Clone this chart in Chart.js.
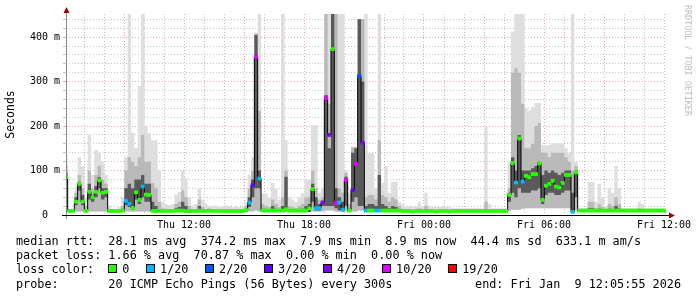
<!DOCTYPE html>
<html>
<head>
<meta charset="utf-8">
<script src="https://cdn.jsdelivr.net/npm/chart.js@4.4.1/dist/chart.umd.min.js"></script>
<style>
  body { margin: 0; background: #fff; }
  #wrap { position: relative; width: 697px; height: 297px; font-family: "DejaVu Sans Mono", monospace; color: #000; }
  #wrap canvas { position: absolute; left: 0; top: 0; }
  .row { position: absolute; left: 16px; font-size: 11.8px; line-height: 14px; white-space: pre; }
  .box { display: inline-block; width: 7px; height: 7px; border: 1px solid #000; margin-right: 5px; }
  .lab { margin-right: 16.6px; }
  #endtxt { position: absolute; right: 16px; top: 277px; font-size: 11.8px; line-height: 14px; white-space: pre; }
  #rrd { position: absolute; left: 683px; top: 5px; font-size: 8.4px; color: #bdbdbd; writing-mode: vertical-rl; white-space: pre; }
</style>
</head>
<body>
<div id="wrap">
  <canvas id="chart" width="697" height="297"></canvas>
  <div class="row" id="r1" style="top:234px"></div>
  <div class="row" id="r2" style="top:248px"></div>
  <div class="row" id="r3" style="top:262px"></div>
  <div class="row" id="r4" style="top:277px"></div>
  <div id="endtxt"></div>
  <div id="rrd">RRDTOOL / TOBI OETIKER</div>
</div>
<script>
// 10 minute samples, Thu 06:06 -> Fri 12:06 (hours since Thu 00:00)
const startHour = 6.1;
const stepHours = 1 / 6;

// median rtt (ms)
const medianMs = [
  85, 9, 9, 30, 70, 30, 9, 52, 40, 52,
  78, 50, 52, 9, 9, 9, 9, 10, 32, 25,
  16, 51, 34, 64, 46, 45, 9, 9, 9, 9,
  9, 9, 9, 10, 10, 10, 9, 9, 9, 9,
  10, 9, 9, 10, 9, 9, 9, 9, 9, 9,
  9, 9, 9, 9, 11, 28, 67, 356, 82, 10,
  10, 10, 10, 10, 10, 10, 13, 10, 10, 10,
  10, 10, 10, 15, 58, 15, 15, 28, 263, 180,
  373, 27, 28, 12, 79, 10, 56, 115, 313, 162,
  10, 10, 10, 10, 10, 10, 10, 10, 10, 10,
  10, 9, 9, 9, 8, 9, 9, 9, 9, 9,
  9, 8, 9, 9, 9, 8, 9, 9, 9, 9,
  9, 9, 9, 9, 9, 9, 9, 9, 9, 9,
  9, 9, 9, 45, 117, 73, 172, 75, 88, 85,
  92, 92, 116, 34, 66, 70, 77, 64, 62, 72,
  90, 90, 7, 96, 10, 10, 10, 10, 10, 10,
  10, 10, 10, 10, 10, 10, 10, 10, 10, 10,
  10, 10, 10, 10, 10, 10, 10, 10, 10, 10,
  9
];

// loss bucket per sample (index into lossLabels)
const lossIdx = [
  0, 0, 0, 0, 0, 0, 0, 0, 0, 0,
  0, 0, 0, 0, 0, 0, 0, 0, 1, 1,
  0, 0, 0, 1, 0, 0, 0, 0, 0, 0,
  0, 0, 0, 0, 0, 0, 0, 0, 0, 0,
  0, 0, 0, 0, 0, 0, 0, 0, 0, 0,
  0, 0, 0, 0, 0, 1, 3, 5, 1, 0,
  0, 0, 0, 0, 0, 0, 0, 0, 0, 0,
  0, 0, 0, 0, 0, 1, 1, 4, 5, 4,
  0, 5, 1, 1, 5, 0, 3, 5, 2, 4,
  1, 0, 0, 1, 1, 0, 0, 0, 0, 0,
  0, 0, 0, 0, 0, 0, 0, 0, 0, 0,
  0, 0, 0, 0, 0, 0, 0, 0, 0, 0,
  0, 0, 0, 0, 0, 0, 0, 0, 0, 0,
  0, 0, 0, 0, 0, 1, 0, 1, 0, 0,
  0, 0, 0, 0, 0, 0, 0, 0, 0, 0,
  0, 0, 1, 0, 0, 0, 0, 0, 0, 0,
  0, 0, 0, 0, 0, 0, 0, 0, 0, 0,
  0, 0, 0, 0, 0, 0, 0, 0, 0, 0,
  0
];

// smoke: highest ping (ms)
const smokeMax = [
  135, 14, 14, 63, 130, 110, 40, 180, 90, 146,
  140, 120, 90, 20, 14, 14, 18, 40, 130, 460,
  185, 150, 290, 460, 200, 184, 168, 168, 100, 30,
  25, 22, 25, 45, 52, 99, 83, 40, 22, 25,
  60, 35, 25, 20, 20, 22, 18, 20, 22, 20,
  18, 20, 18, 20, 30, 90, 130, 410, 460, 49,
  49, 40, 72, 60, 35, 460, 168, 40, 35, 30,
  40, 49, 79, 79, 202, 202, 50, 60, 460, 460,
  460, 460, 460, 460, 100, 50, 153, 153, 440, 440,
  460, 139, 139, 60, 460, 72, 110, 50, 75, 75,
  30, 25, 20, 20, 18, 20, 30, 20, 50, 22,
  18, 18, 18, 20, 18, 18, 15, 15, 15, 15,
  15, 15, 15, 15, 15, 15, 198, 25, 15, 15,
  15, 15, 15, 120, 412, 460, 460, 460, 240, 235,
  243, 252, 252, 157, 157, 157, 161, 161, 161, 160,
  150, 140, 460, 120, 15, 15, 15, 75, 75, 30,
  70, 40, 20, 61, 50, 110, 60, 15, 15, 15,
  15, 15, 30, 25, 15, 15, 15, 15, 15, 15,
  15
];

// smoke: upper middle pings (ms)
const smokeMid = [
  110, 11, 11, 50, 90, 60, 20, 100, 60, 90,
  110, 80, 70, 12, 11, 11, 12, 20, 100, 130,
  120, 110, 130, 180, 120, 120, 72, 60, 30, 15,
  14, 12, 12, 25, 30, 55, 40, 20, 12, 12,
  35, 18, 12, 12, 12, 12, 11, 12, 12, 12,
  11, 12, 11, 12, 20, 60, 100, 408, 235, 25,
  20, 18, 35, 25, 18, 40, 100, 20, 18, 15,
  20, 25, 40, 40, 100, 60, 35, 40, 460, 250,
  460, 460, 60, 50, 95, 25, 153, 153, 440, 440,
  40, 45, 45, 35, 168, 45, 40, 30, 40, 35,
  20, 14, 12, 12, 11, 12, 15, 12, 20, 12,
  11, 11, 11, 12, 11, 11, 11, 11, 11, 11,
  11, 11, 11, 11, 11, 11, 30, 12, 11, 11,
  11, 11, 11, 60, 320, 330, 320, 250, 150, 150,
  160, 200, 207, 140, 140, 130, 140, 140, 140, 140,
  130, 120, 100, 110, 11, 11, 11, 30, 30, 15,
  25, 18, 12, 25, 20, 40, 25, 11, 11, 11,
  11, 11, 15, 14, 11, 11, 11, 11, 11, 11,
  11
];

// smoke: pings closest to the median, top (ms)
const smokeDark = [
  95, 10, 10, 40, 75, 45, 12, 70, 45, 65,
  85, 60, 60, 10, 10, 10, 10, 14, 60, 70,
  60, 80, 80, 90, 70, 70, 30, 20, 12, 11,
  11, 10, 10, 15, 18, 30, 20, 12, 10, 10,
  20, 12, 10, 10, 10, 10, 10, 10, 10, 10,
  10, 10, 10, 10, 14, 40, 80, 405, 100, 14,
  12, 12, 20, 14, 12, 20, 86, 12, 12, 11,
  12, 14, 20, 25, 70, 40, 25, 32, 270, 150,
  460, 60, 40, 30, 86, 14, 140, 150, 440, 300,
  20, 25, 25, 20, 90, 25, 20, 15, 20, 18,
  12, 11, 10, 10, 10, 10, 11, 10, 12, 10,
  10, 10, 10, 10, 10, 10, 10, 10, 10, 10,
  10, 10, 10, 10, 10, 10, 12, 10, 10, 10,
  10, 10, 10, 50, 130, 100, 180, 100, 100, 100,
  105, 110, 120, 90, 100, 95, 100, 95, 90, 95,
  100, 100, 50, 100, 10, 10, 10, 15, 15, 11,
  14, 12, 10, 14, 12, 20, 14, 10, 10, 10,
  10, 10, 11, 11, 10, 10, 10, 10, 10, 10,
  10
];

// smoke: pings closest to the median, bottom (ms)
const smokeDarkLo = [
  70, 7, 7, 22, 55, 22, 7, 35, 30, 40,
  60, 35, 40, 7, 7, 7, 7, 7, 22, 18,
  12, 35, 25, 40, 30, 30, 8, 7, 7, 7,
  7, 7, 7, 7, 7, 7, 7, 7, 7, 7,
  7, 7, 7, 7, 7, 7, 7, 7, 7, 7,
  7, 7, 7, 7, 7, 18, 40, 60, 60, 7,
  7, 7, 7, 7, 7, 7, 10, 7, 7, 7,
  7, 7, 7, 7, 30, 10, 10, 20, 20, 20,
  20, 15, 10, 10, 20, 7, 30, 40, 20, 20,
  7, 7, 7, 7, 10, 7, 7, 7, 7, 7,
  7, 7, 7, 7, 7, 7, 7, 7, 7, 7,
  7, 7, 7, 7, 7, 7, 7, 7, 7, 7,
  7, 7, 7, 7, 7, 7, 7, 7, 7, 7,
  7, 7, 7, 30, 50, 40, 60, 50, 50, 50,
  55, 55, 60, 25, 45, 50, 50, 45, 45, 50,
  55, 55, 7, 40, 7, 7, 7, 7, 7, 7,
  7, 7, 7, 7, 7, 7, 7, 7, 7, 7,
  7, 7, 7, 7, 7, 7, 7, 7, 7, 7,
  7
];

// smoke: lowest ping (ms)
const minMs = [
  8, 7, 7, 8, 8, 8, 7, 8, 8, 8,
  8, 8, 8, 7, 7, 7, 7, 7, 8, 8,
  8, 8, 8, 8, 8, 8, 7, 7, 7, 7,
  7, 7, 7, 7, 7, 7, 7, 7, 7, 7,
  7, 7, 7, 7, 7, 7, 7, 7, 7, 7,
  7, 7, 7, 7, 7, 8, 8, 10, 8, 7,
  7, 7, 7, 7, 7, 7, 7, 7, 7, 7,
  7, 7, 7, 7, 8, 8, 8, 8, 10, 10,
  10, 8, 8, 7, 8, 7, 8, 8, 10, 10,
  7, 7, 7, 7, 7, 7, 7, 7, 7, 7,
  7, 7, 7, 7, 7, 7, 7, 7, 7, 7,
  7, 7, 7, 7, 7, 7, 7, 7, 7, 7,
  7, 7, 7, 7, 7, 7, 7, 7, 7, 7,
  7, 7, 7, 9, 12, 12, 12, 14, 15, 15,
  15, 15, 15, 15, 15, 15, 15, 15, 15, 15,
  15, 15, 7, 10, 7, 7, 7, 7, 7, 7,
  7, 7, 7, 7, 7, 7, 7, 7, 7, 7,
  7, 7, 7, 7, 7, 7, 7, 7, 7, 7,
  7
];

const lossLabels = ["0", "1/20", "2/20", "3/20", "4/20", "10/20", "19/20"];
const lossColors = ["#26ff00", "#00b8ff", "#0059ff", "#5e00ff", "#7e00ff", "#dd00ff", "#ff0000"];

const xTickHours = [12, 18, 24, 30, 36];
const xTickLabels = ["Thu 12:00", "Thu 18:00", "Fri 00:00", "Fri 06:00", "Fri 12:00"];
const yTickValues = [0, 100, 200, 300, 400];
const yTickLabels = ["0", "100 m", "200 m", "300 m", "400 m"];

const rttStats = ["28.1 ms avg", "374.2 ms max", "7.9 ms min", "8.9 ms now", "44.4 ms sd", "633.1 m am/s"];
const lossStats = ["1.66 % avg", "70.87 % max", "0.00 % min", "0.00 % now"];
const probeText = "20 ICMP Echo Pings (56 Bytes) every 300s";
const endText = "end: Fri Jan  9 12:05:55 2026";

// legend text
document.getElementById("r1").textContent = "median rtt:  " + rttStats.join("  ");
document.getElementById("r2").textContent = "packet loss: " + lossStats.join("  ");
document.getElementById("r4").textContent = "probe:       " + probeText;
document.getElementById("endtxt").textContent = endText;
const r3 = document.getElementById("r3");
r3.textContent = "loss color:  ";
lossLabels.forEach((lab, k) => {
  const b = document.createElement("span");
  b.className = "box";
  b.style.background = lossColors[k];
  r3.appendChild(b);
  const t = document.createElement("span");
  t.className = "lab";
  t.textContent = lab;
  r3.appendChild(t);
});

const hours = medianMs.map((v, i) => startHour + i * stepHours);
const pts = arr => arr.map((v, i) => ({ x: hours[i], y: v }));

const gridHours = [];
for (let h = 7; h <= 36; h++) gridHours.push(h);
const yGrid = [];
for (let v = 0; v <= 440; v += 20) yGrid.push(v);

const minorGrid = "rgba(143,143,143,0.55)";
const majorGrid = "rgba(222,79,79,0.5)";
const mono = "DejaVu Sans Mono";

// axis lines + arrows, drawn over the data like rrdtool
const axisArrows = {
  id: "axisArrows",
  afterDraw(chart) {
    const { ctx, chartArea: a } = chart;
    ctx.save();
    ctx.lineWidth = 1;
    ctx.strokeStyle = "#888";
    ctx.beginPath();
    ctx.moveTo(a.left + 0.5, a.bottom + 4);
    ctx.lineTo(a.left + 0.5, a.top - 5);
    ctx.stroke();
    ctx.strokeStyle = "#000";
    ctx.beginPath();
    ctx.moveTo(a.left - 4, a.bottom + 0.5);
    ctx.lineTo(a.right + 3, a.bottom + 0.5);
    ctx.stroke();
    ctx.fillStyle = "#a00000";
    ctx.beginPath();
    ctx.moveTo(a.left + 0.5, a.top - 7);
    ctx.lineTo(a.left - 2.5, a.top - 1);
    ctx.lineTo(a.left + 3.5, a.top - 1);
    ctx.closePath();
    ctx.fill();
    ctx.beginPath();
    ctx.moveTo(a.right + 9, a.bottom + 0.5);
    ctx.lineTo(a.right + 3, a.bottom - 2.5);
    ctx.lineTo(a.right + 3, a.bottom + 3.5);
    ctx.closePath();
    ctx.fill();
    ctx.restore();
  }
};

const band = (arr, color, order, target) => ({
  data: pts(arr),
  backgroundColor: color,
  borderColor: "transparent",
  borderWidth: 0,
  pointRadius: 0,
  stepped: "middle",
  fill: target,
  order: order
});

new Chart(document.getElementById("chart"), {
  type: "line",
  data: {
    datasets: [
      {
        type: "bar",
        data: medianMs.map((v, i) => ({ x: hours[i], y: [v - 3.4, v + 3.4] })),
        backgroundColor: lossIdx.map(k => lossColors[k]),
        borderWidth: 0,
        barPercentage: 1,
        categoryPercentage: 1,
        order: 0
      },
      {
        data: pts(medianMs),
        borderColor: "#000",
        borderWidth: 1,
        pointRadius: 0,
        stepped: "middle",
        fill: false,
        order: 1
      },
      band(smokeDark, "#5a5a5a", 2, 6),
      band(smokeMid, "#b9b9b9", 3, 5),
      band(smokeMax, "#dedede", 4, 5),
      band(minMs, "transparent", 5, false),
      band(smokeDarkLo, "transparent", 6, false)
    ]
  },
  options: {
    responsive: false,
    animation: false,
    devicePixelRatio: 1,
    layout: { padding: { left: 0, top: 14, right: 31, bottom: 0 } },
    plugins: { legend: { display: false }, tooltip: { enabled: false } },
    scales: {
      x: {
        type: "linear",
        min: startHour,
        max: startHour + 30,
        offset: false,
        afterBuildTicks: s => { s.ticks = gridHours.map(v => ({ value: v })); },
        afterFit: s => { s.height = 82; },
        grid: {
          offset: false,
          drawTicks: false,
          color: c => (c.tick && c.tick.value % 3 === 0) ? majorGrid : minorGrid
        },
        border: { display: false, dash: [1, 2] },
        ticks: {
          autoSkip: false,
          maxRotation: 0,
          padding: 4,
          color: "#000",
          font: { family: mono, size: 10 },
          callback: v => {
            const k = xTickHours.indexOf(v);
            return k < 0 ? "" : xTickLabels[k];
          }
        }
      },
      y: {
        min: 0,
        max: 452,
        afterBuildTicks: s => { s.ticks = yGrid.map(v => ({ value: v })); },
        afterFit: s => { s.width = 66; },
        grid: {
          tickLength: 3,
          color: c => (c.tick && c.tick.value % 100 === 0) ? majorGrid : minorGrid
        },
        border: { display: false, dash: [1, 2] },
        ticks: {
          autoSkip: false,
          padding: 3,
          color: "#000",
          font: { family: mono, size: 10 },
          callback: v => {
            const k = yTickValues.indexOf(v);
            if (k < 0) return "";
            const lab = yTickLabels[k];
            return lab.indexOf(" ") < 0 ? lab + "  " : lab;
          }
        },
        title: {
          display: true,
          text: "Seconds",
          color: "#000",
          font: { family: mono, size: 11.5 },
          padding: { top: 4, bottom: 0 }
        }
      }
    }
  },
  plugins: [axisArrows]
});
</script>
</body>
</html>
